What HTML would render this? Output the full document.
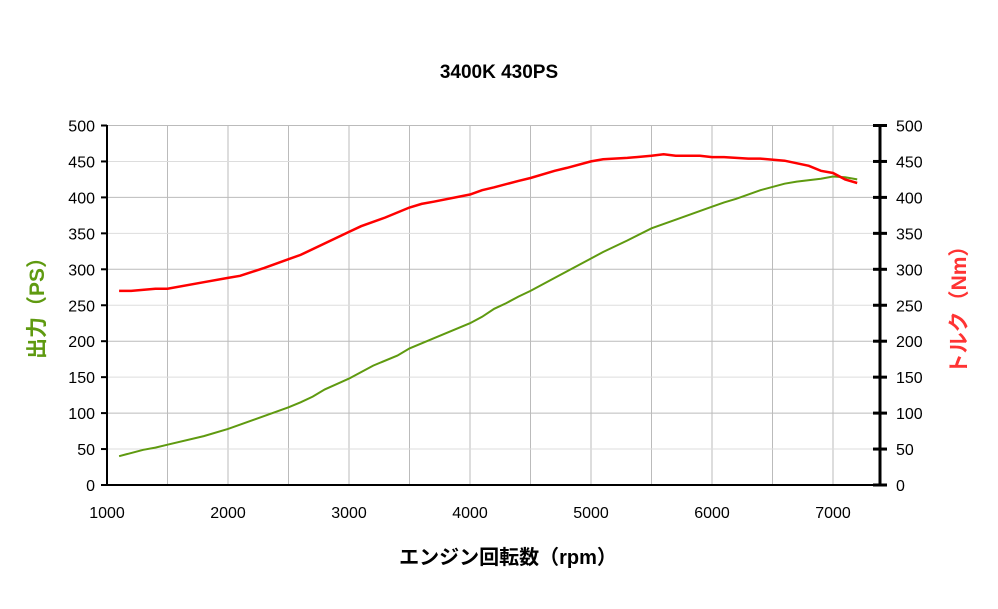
<!DOCTYPE html>
<html><head><meta charset="utf-8"><style>
html,body{margin:0;padding:0;background:#fff;}
svg{display:block;font-family:"Liberation Sans","Noto Sans CJK JP",sans-serif;}
</style></head><body>
<svg id="s" width="998" height="609" viewBox="0 0 998 609" xmlns="http://www.w3.org/2000/svg">
<rect width="998" height="609" fill="#fff"/>
<text x="499" y="78" text-anchor="middle" font-size="19" font-weight="bold" fill="#000">3400K 430PS</text>
<g id="grid"></g>
<g id="lines"></g>
<line x1="107" y1="125" x2="107" y2="486" stroke="#000" stroke-width="2"/>
<line x1="106" y1="485" x2="880" y2="485" stroke="#000" stroke-width="2"/>
<line x1="880" y1="125" x2="880" y2="486" stroke="#000" stroke-width="3"/>
<g id="ticks" font-size="16" fill="#000"></g>
<text transform="translate(44,303) rotate(-90)" text-anchor="middle" font-size="21" font-weight="bold" fill="#5f9a10">出力（PS）</text>
<text transform="translate(966,305) rotate(-90)" text-anchor="middle" font-size="21" font-weight="bold" fill="#ff3333">トルク（Nm）</text>
<text x="508" y="564" text-anchor="middle" font-size="20" font-weight="bold" fill="#000">エンジン回転数（rpm）</text>
</svg>
<script>
var ns="http://www.w3.org/2000/svg";
function X(r){return 107+(r-1000)*0.121;}
function Y(v){return 485-v*0.719;}
function el(p,t,a,txt){var e=document.createElementNS(ns,t);for(var k in a)e.setAttribute(k,a[k]);if(txt!=null)e.textContent=txt;document.getElementById(p).appendChild(e);}
for(var r=1500;r<=7000;r+=500)el("grid","line",{x1:X(r),y1:125,x2:X(r),y2:485,stroke:"#bbb","stroke-width":1});
for(var v=50;v<=500;v+=50)el("grid","line",{x1:107,y1:Y(v),x2:880,y2:Y(v),stroke:v%100==0?"#bbb":"#ddd","stroke-width":1});
for(var v=0;v<=500;v+=50){var y=Y(v);
el("ticks","line",{x1:101,y1:y,x2:107,y2:y,stroke:"#000","stroke-width":2});
el("ticks","line",{x1:873,y1:y,x2:887,y2:y,stroke:"#000","stroke-width":3});
el("ticks","text",{x:95,y:y+6,"text-anchor":"end"},v);
el("ticks","text",{x:896,y:y+6},v);}
for(var r=1000;r<=7000;r+=1000)el("ticks","text",{x:X(r),y:518,"text-anchor":"middle"},r);
var T=[[1100,270],[1200,270],[1400,273],[1500,273],[1800,282],[2000,288],[2100,291],[2300,302],[2500,314],[2600,320],[3000,352],[3100,360],[3300,372],[3500,386],[3600,391],[3700,394],[4000,404],[4100,410],[4200,414],[4400,423],[4500,427],[4700,437],[4800,441],[5000,450],[5100,453],[5300,455],[5500,458],[5600,460],[5700,458],[5900,458],[6000,456],[6100,456],[6300,454],[6400,454],[6600,451],[6800,444],[6900,437],[7000,434],[7100,425],[7200,420]];
var P=[[1100,40],[1300,49],[1400,52],[1500,56],[1800,68],[2000,78],[2200,90],[2500,108],[2600,115],[2700,123],[2800,133],[3000,148],[3100,157],[3200,166],[3400,180],[3500,190],[3700,204],[4000,225],[4100,234],[4200,245],[4300,253],[4400,262],[4500,270],[4700,288],[5000,315],[5100,324],[5300,340],[5500,357],[5700,369],[6000,387],[6100,393],[6200,398],[6400,410],[6600,419],[6700,422],[6900,426],[7000,429],[7100,428],[7200,425]];
function pts(a){return a.map(function(p){return X(p[0]).toFixed(1)+","+Y(p[1]).toFixed(1);}).join(" ");}
el("lines","polyline",{points:pts(P),fill:"none",stroke:"#5f9a10","stroke-width":2});
el("lines","polyline",{points:pts(T),fill:"none",stroke:"#ff0000","stroke-width":2.5});
</script>
</body></html>
